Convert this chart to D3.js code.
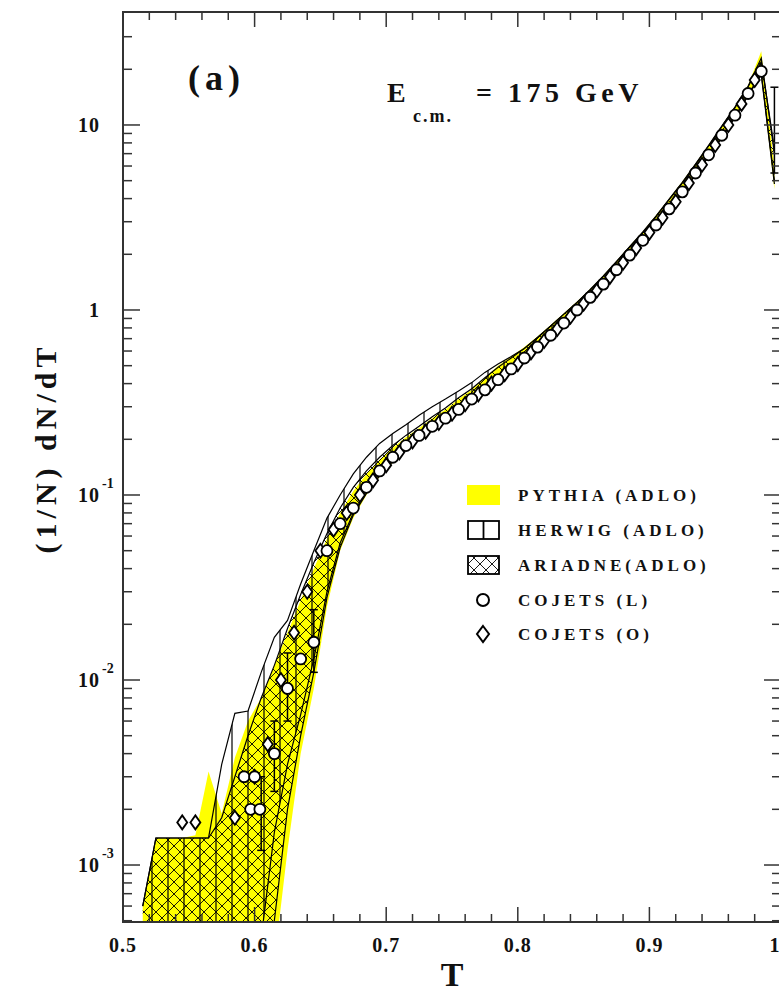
<!DOCTYPE html>
<html lang="en">
<head>
    <meta charset="UTF-8">
    <title>Thrust distribution at 175 GeV</title>
    <style>
        body {
            margin: 0;
            padding: 0;
            background-color: #ffffff;
            overflow: hidden;
        }
        text {
            font-family: "Liberation Serif", "DejaVu Serif", serif;
            font-weight: bold;
            fill: #111;
        }
    </style>
</head>
<body>
    <div id="chart"></div>
    <script src="https://d3js.org/d3.v7.min.js"></script>
    <script>
        // Bin centres (T) shared by the three generator bands
        const tBins = [0.515, 0.525, 0.535, 0.545, 0.555, 0.565, 0.575, 0.585, 0.595, 0.605,
            0.615, 0.625, 0.635, 0.645, 0.655, 0.665, 0.675, 0.685, 0.695, 0.705,
            0.715, 0.725, 0.735, 0.745, 0.755, 0.765, 0.775, 0.785, 0.795, 0.805,
            0.815, 0.825, 0.835, 0.845, 0.855, 0.865, 0.875, 0.885, 0.895, 0.905,
            0.915, 0.925, 0.935, 0.945, 0.955, 0.965, 0.975, 0.985, 0.995];

        // PYTHIA (ADLO) - yellow band
        const pythiaHi = [6e-4, 1.4e-3, 1.4e-3, 1.4e-3, 1.45e-3, 3.2e-3, 1.9e-3, 3.8e-3, 6.0e-3, 8.0e-3,
            0.012, 0.018, 0.027, 0.040, 0.058, 0.080, 0.105, 0.130, 0.155, 0.180,
            0.205, 0.230, 0.260, 0.290, 0.330, 0.370, 0.430, 0.500, 0.560, 0.630,
            0.720, 0.830, 0.960, 1.11, 1.30, 1.54, 1.84, 2.22, 2.66, 3.25,
            4.00, 4.95, 6.20, 7.80, 9.90, 12.6, 16.4, 25.0, 6.0];
        const pythiaLo = [1e-4, 1e-4, 1e-4, 1e-4, 1e-4, 1e-4, 1e-4, 1e-4, 1e-4, 1e-4,
            3e-4, 1.2e-3, 4.0e-3, 9.0e-3, 0.025, 0.050, 0.075, 0.100, 0.125, 0.150,
            0.175, 0.200, 0.225, 0.255, 0.290, 0.325, 0.370, 0.420, 0.470, 0.540,
            0.620, 0.710, 0.820, 0.950, 1.12, 1.32, 1.58, 1.90, 2.30, 2.80,
            3.42, 4.28, 5.35, 6.70, 8.50, 11.0, 14.3, 18.5, 4.5];

        // HERWIG (ADLO) - vertical hatching
        const herwigHi = [6e-4, 1.4e-3, 1.4e-3, 1.4e-3, 1.4e-3, 1.4e-3, 3.5e-3, 6.6e-3, 6.8e-3, 0.011,
            0.017, 0.021, 0.033, 0.050, 0.075, 0.100, 0.130, 0.160, 0.190, 0.215,
            0.240, 0.270, 0.300, 0.330, 0.365, 0.405, 0.460, 0.510, 0.560, 0.620,
            0.710, 0.820, 0.950, 1.10, 1.28, 1.52, 1.82, 2.19, 2.62, 3.20,
            3.95, 4.85, 6.10, 7.70, 9.80, 12.4, 16.1, 22.0, 7.5];
        const herwigLo = [1e-4, 1e-4, 1e-4, 1e-4, 1e-4, 1e-4, 1e-4, 1e-4, 1e-4, 4e-4,
            1.5e-3, 3.5e-3, 6.5e-3, 0.013, 0.030, 0.055, 0.080, 0.105, 0.130, 0.155,
            0.180, 0.205, 0.230, 0.260, 0.295, 0.330, 0.375, 0.425, 0.480, 0.550,
            0.630, 0.720, 0.830, 0.960, 1.13, 1.33, 1.59, 1.91, 2.32, 2.83,
            3.47, 4.33, 5.40, 6.80, 8.60, 11.1, 14.6, 19.0, 5.0];

        // ARIADNE (ADLO) - cross hatching
        const ariadneHi = [6e-4, 1.4e-3, 1.4e-3, 1.4e-3, 1.4e-3, 1.4e-3, 1.8e-3, 3.0e-3, 5.0e-3, 8.0e-3,
            0.012, 0.019, 0.029, 0.043, 0.062, 0.085, 0.110, 0.135, 0.160, 0.185,
            0.210, 0.235, 0.265, 0.295, 0.335, 0.375, 0.430, 0.490, 0.550, 0.620,
            0.710, 0.820, 0.950, 1.10, 1.29, 1.53, 1.83, 2.20, 2.64, 3.22,
            3.97, 4.90, 6.15, 7.75, 9.85, 12.5, 16.2, 23.0, 7.0];
        const ariadneLo = [1e-4, 1e-4, 1e-4, 1e-4, 1e-4, 1e-4, 1e-4, 1e-4, 1e-4, 1e-4,
            5e-4, 2.0e-3, 5.0e-3, 0.011, 0.028, 0.052, 0.078, 0.102, 0.127, 0.152,
            0.177, 0.202, 0.228, 0.258, 0.292, 0.328, 0.372, 0.422, 0.475, 0.545,
            0.625, 0.715, 0.825, 0.955, 1.12, 1.32, 1.58, 1.90, 2.31, 2.81,
            3.44, 4.30, 5.38, 6.75, 8.55, 11.0, 14.4, 18.7, 4.8];

        // COJETS (L) - circles
        const cojetsLT = [0.592, 0.600, 0.597, 0.604, 0.615, 0.625, 0.635, 0.645, 0.655, 0.665,
            0.675, 0.685, 0.695, 0.705, 0.715, 0.725, 0.735, 0.745, 0.755, 0.765,
            0.775, 0.785, 0.795, 0.805, 0.815, 0.825, 0.835, 0.845, 0.855, 0.865,
            0.875, 0.885, 0.895, 0.905, 0.915, 0.925, 0.935, 0.945, 0.955, 0.965,
            0.975, 0.985];
        const cojetsLVal = [3.0e-3, 3.0e-3, 2.0e-3, 2.0e-3, 4.0e-3, 9.0e-3, 0.013, 0.016, 0.050, 0.070,
            0.085, 0.110, 0.135, 0.160, 0.185, 0.210, 0.235, 0.260, 0.290, 0.330,
            0.370, 0.420, 0.480, 0.550, 0.630, 0.730, 0.850, 1.00, 1.17, 1.38,
            1.65, 1.98, 2.38, 2.88, 3.52, 4.35, 5.50, 6.90, 8.80, 11.3,
            14.8, 19.5];

        // COJETS (O) - diamonds
        const cojetsOT = [0.545, 0.555, 0.585, 0.600, 0.610, 0.620, 0.630, 0.640, 0.650, 0.660,
            0.670, 0.680, 0.690, 0.700, 0.710, 0.720, 0.730, 0.740, 0.750, 0.760,
            0.770, 0.780, 0.790, 0.800, 0.810, 0.820, 0.830, 0.840, 0.850, 0.860,
            0.870, 0.880, 0.890, 0.900, 0.910, 0.920, 0.930, 0.940, 0.950, 0.960,
            0.970, 0.980];
        const cojetsOVal = [1.7e-3, 1.7e-3, 1.8e-3, 3.0e-3, 4.5e-3, 0.010, 0.018, 0.030, 0.050, 0.065,
            0.080, 0.100, 0.120, 0.145, 0.170, 0.195, 0.220, 0.245, 0.275, 0.310,
            0.350, 0.400, 0.450, 0.510, 0.590, 0.680, 0.790, 0.920, 1.08, 1.27,
            1.51, 1.80, 2.16, 2.62, 3.15, 3.85, 4.85, 6.10, 7.80, 10.0,
            13.0, 17.5];

        // Error bars seen on the markers
        const errT = [0.605, 0.615, 0.625, 0.645, 0.995];
        const errLo = [1.2e-3, 2.5e-3, 6.0e-3, 0.011, 5.5];
        const errHi = [3.0e-3, 6.0e-3, 0.014, 0.024, 16.0];

        // Axis ticks
        const xMajor = [0.5, 0.6, 0.7, 0.8, 0.9, 1.0];
        const xLabels = ['0.5', '0.6', '0.7', '0.8', '0.9', '1'];
        const yMajor = [1e-3, 1e-2, 1e-1, 1, 10];
        const yExp = ['-3', '-2', '-1', '', ''];
        const yBase = ['10', '10', '10', '1', '10'];

        const legendNames = ['PYTHIA (ADLO)', 'HERWIG (ADLO)', 'ARIADNE(ADLO)', 'COJETS (L)', 'COJETS (O)'];

        const width = 779, height = 993;
        const plot = { left: 123, right: 781, top: 12, bottom: 922 };

        const x = d3.scaleLinear().domain([0.5, 1.0]).range([plot.left, plot.right]);
        const y = d3.scaleLog().domain([4.92e-4, 40.8]).range([plot.bottom, plot.top]);

        const svg = d3.select('#chart').append('svg')
            .attr('width', width)
            .attr('height', height);

        const defs = svg.append('defs');
        defs.append('clipPath').attr('id', 'clip')
            .append('rect')
            .attr('x', plot.left).attr('y', plot.top)
            .attr('width', plot.right - plot.left)
            .attr('height', plot.bottom - plot.top);

        // vertical line hatch (HERWIG)
        const vp = defs.append('pattern').attr('id', 'vhatch')
            .attr('patternUnits', 'userSpaceOnUse')
            .attr('width', 16).attr('height', 10);
        vp.append('line').attr('x1', 8).attr('x2', 8).attr('y1', 0).attr('y2', 10)
            .attr('stroke', '#000').attr('stroke-width', 1.2);

        // cross hatch (ARIADNE)
        const cp = defs.append('pattern').attr('id', 'xhatch')
            .attr('patternUnits', 'userSpaceOnUse')
            .attr('width', 12).attr('height', 12);
        cp.append('path').attr('d', 'M0,0L12,12M12,0L0,12M-6,6L6,18M6,-6L18,6M6,-6L-6,6M18,6L6,18')
            .attr('stroke', '#000').attr('stroke-width', 0.9).attr('fill', 'none');

        const g = svg.append('g').attr('clip-path', 'url(#clip)');

        const band = (hi, lo) => tBins.map((t, i) => ({ t, hi: hi[i], lo: lo[i] }));
        const area = d3.area()
            .x(d => x(d.t))
            .y0(d => y(d.lo))
            .y1(d => y(d.hi));
        const lineHi = d3.line().x(d => x(d.t)).y(d => y(d.hi));
        const lineLo = d3.line().x(d => x(d.t)).y(d => y(d.lo));

        // PYTHIA yellow
        g.append('path')
            .datum(band(pythiaHi, pythiaLo))
            .attr('fill', '#ffff00')
            .attr('d', area);

        // ARIADNE cross hatch
        const ariadne = band(ariadneHi, ariadneLo);
        g.append('path').datum(ariadne).attr('fill', 'url(#xhatch)').attr('d', area);
        g.append('path').datum(ariadne).attr('fill', 'none').attr('stroke', '#000').attr('stroke-width', 1.2).attr('d', lineHi);
        g.append('path').datum(ariadne).attr('fill', 'none').attr('stroke', '#000').attr('stroke-width', 1.2).attr('d', lineLo);

        // HERWIG vertical hatch
        const herwig = band(herwigHi, herwigLo);
        g.append('path').datum(herwig).attr('fill', 'url(#vhatch)').attr('d', area);
        g.append('path').datum(herwig).attr('fill', 'none').attr('stroke', '#000').attr('stroke-width', 1.2).attr('d', lineHi);
        g.append('path').datum(herwig).attr('fill', 'none').attr('stroke', '#000').attr('stroke-width', 1.2).attr('d', lineLo);

        // error bars
        const errs = errT.map((t, i) => ({ t, lo: errLo[i], hi: errHi[i] }));
        const eb = g.selectAll('.err').data(errs).join('g').attr('class', 'err');
        eb.append('line')
            .attr('x1', d => x(d.t)).attr('x2', d => x(d.t))
            .attr('y1', d => y(d.lo)).attr('y2', d => y(d.hi))
            .attr('stroke', '#000').attr('stroke-width', 1.5);
        eb.append('line')
            .attr('x1', d => x(d.t) - 4).attr('x2', d => x(d.t) + 4)
            .attr('y1', d => y(d.lo)).attr('y2', d => y(d.lo))
            .attr('stroke', '#000').attr('stroke-width', 1.5);
        eb.append('line')
            .attr('x1', d => x(d.t) - 4).attr('x2', d => x(d.t) + 4)
            .attr('y1', d => y(d.hi)).attr('y2', d => y(d.hi))
            .attr('stroke', '#000').attr('stroke-width', 1.5);

        // COJETS (O) diamonds
        const diamond = 'M0,-7L5,0L0,7L-5,0Z';
        g.selectAll('.dia')
            .data(cojetsOT.map((t, i) => ({ t, v: cojetsOVal[i] })))
            .join('path')
            .attr('class', 'dia')
            .attr('transform', d => `translate(${x(d.t)},${y(d.v)})`)
            .attr('d', diamond)
            .attr('fill', '#fff')
            .attr('stroke', '#000')
            .attr('stroke-width', 1.8);

        // COJETS (L) circles
        g.selectAll('.circ')
            .data(cojetsLT.map((t, i) => ({ t, v: cojetsLVal[i] })))
            .join('circle')
            .attr('class', 'circ')
            .attr('cx', d => x(d.t))
            .attr('cy', d => y(d.v))
            .attr('r', 5.5)
            .attr('fill', '#fff')
            .attr('stroke', '#000')
            .attr('stroke-width', 1.8);

        // frame
        const axisColor = '#333';
        svg.append('rect')
            .attr('x', plot.left).attr('y', plot.top)
            .attr('width', plot.right - plot.left)
            .attr('height', plot.bottom - plot.top)
            .attr('fill', 'none')
            .attr('stroke', axisColor)
            .attr('stroke-width', 2);

        // x ticks (bottom and top, pointing inward)
        const xMinor = d3.range(0.52, 1.0, 0.02).filter(v => Math.abs(v * 10 - Math.round(v * 10)) > 1e-6);
        const ticks = svg.append('g').attr('stroke', axisColor).attr('stroke-width', 1.5);
        xMajor.forEach(v => {
            ticks.append('line').attr('x1', x(v)).attr('x2', x(v)).attr('y1', plot.bottom).attr('y2', plot.bottom - 15);
            ticks.append('line').attr('x1', x(v)).attr('x2', x(v)).attr('y1', plot.top).attr('y2', plot.top + 15);
        });
        xMinor.forEach(v => {
            ticks.append('line').attr('x1', x(v)).attr('x2', x(v)).attr('y1', plot.bottom).attr('y2', plot.bottom - 8);
            ticks.append('line').attr('x1', x(v)).attr('x2', x(v)).attr('y1', plot.top).attr('y2', plot.top + 8);
        });

        // y ticks (left and right)
        const yMinor = [];
        [1e-4, 1e-3, 1e-2, 1e-1, 1, 10].forEach(dec => {
            for (let k = 2; k <= 9; k++) {
                const v = dec * k;
                if (v > y.domain()[0] && v < 39) yMinor.push(v);
            }
        });
        yMajor.forEach(v => {
            ticks.append('line').attr('x1', plot.left).attr('x2', plot.left + 17).attr('y1', y(v)).attr('y2', y(v));
            ticks.append('line').attr('x1', plot.right).attr('x2', plot.right - 17).attr('y1', y(v)).attr('y2', y(v));
        });
        yMinor.forEach(v => {
            ticks.append('line').attr('x1', plot.left).attr('x2', plot.left + 9).attr('y1', y(v)).attr('y2', y(v));
            ticks.append('line').attr('x1', plot.right).attr('x2', plot.right - 9).attr('y1', y(v)).attr('y2', y(v));
        });

        // tick labels (the last one sits on the window edge, as in the original)
        svg.selectAll('.xlab')
            .data(xMajor)
            .join('text')
            .attr('class', 'xlab')
            .attr('x', d => d === 1.0 ? x(d) - 6 : x(d))
            .attr('y', 952)
            .attr('text-anchor', 'middle')
            .attr('font-size', 20)
            .attr('letter-spacing', 1)
            .text((d, i) => xLabels[i]);

        yMajor.forEach((v, i) => {
            svg.append('text')
                .attr('x', 100).attr('y', y(v) + 7)
                .attr('text-anchor', 'end')
                .attr('font-size', 20)
                .attr('letter-spacing', 1)
                .text(yBase[i]);
            if (yExp[i]) {
                svg.append('text')
                    .attr('x', 102).attr('y', y(v) - 7)
                    .attr('font-size', 14)
                    .text(yExp[i]);
            }
        });

        // axis titles
        svg.append('text')
            .attr('x', 452).attr('y', 986)
            .attr('text-anchor', 'middle')
            .attr('font-size', 34)
            .text('T');

        svg.append('text')
            .attr('transform', 'translate(56,448) rotate(-90)')
            .attr('text-anchor', 'middle')
            .attr('font-size', 30)
            .attr('letter-spacing', 5)
            .text('(1/N) dN/dT');

        // annotations
        svg.append('text')
            .attr('x', 188).attr('y', 90)
            .attr('font-size', 36)
            .attr('letter-spacing', 5)
            .text('(a)');

        const ecm = svg.append('text').attr('y', 102).attr('font-size', 28);
        ecm.append('tspan').attr('x', 387).text('E');
        ecm.append('tspan').attr('x', 413).attr('y', 122).attr('font-size', 18).attr('letter-spacing', 2).text('c.m.');
        ecm.append('tspan').attr('x', 476).attr('y', 102).attr('letter-spacing', 4.5).text('= 175 GeV');

        // legend
        const legY = [495, 530, 565, 600, 634];
        const leg = svg.append('g');
        leg.append('rect').attr('x', 467).attr('y', legY[0] - 10).attr('width', 33).attr('height', 20).attr('fill', '#ffff00');
        leg.append('rect').attr('x', 468).attr('y', legY[1] - 9).attr('width', 31).attr('height', 18)
            .attr('fill', 'none').attr('stroke', '#000').attr('stroke-width', 1.8);
        leg.append('line').attr('x1', 483.5).attr('x2', 483.5).attr('y1', legY[1] - 9).attr('y2', legY[1] + 9)
            .attr('stroke', '#000').attr('stroke-width', 1.8);
        leg.append('rect').attr('x', 468).attr('y', legY[2] - 9).attr('width', 31).attr('height', 18)
            .attr('fill', 'url(#xhatch)').attr('stroke', '#000').attr('stroke-width', 1.8);
        leg.append('circle').attr('cx', 483).attr('cy', legY[3]).attr('r', 6)
            .attr('fill', '#fff').attr('stroke', '#000').attr('stroke-width', 2);
        leg.append('path').attr('transform', `translate(483,${legY[4]})`).attr('d', 'M0,-8L6,0L0,8L-6,0Z')
            .attr('fill', '#fff').attr('stroke', '#000').attr('stroke-width', 2);

        leg.selectAll('.legtext')
            .data(legendNames)
            .join('text')
            .attr('class', 'legtext')
            .attr('x', 518)
            .attr('y', (d, i) => legY[i] + 6)
            .attr('font-size', 17)
            .attr('letter-spacing', 4)
            .text(d => d);
    </script>
</body>
</html>
